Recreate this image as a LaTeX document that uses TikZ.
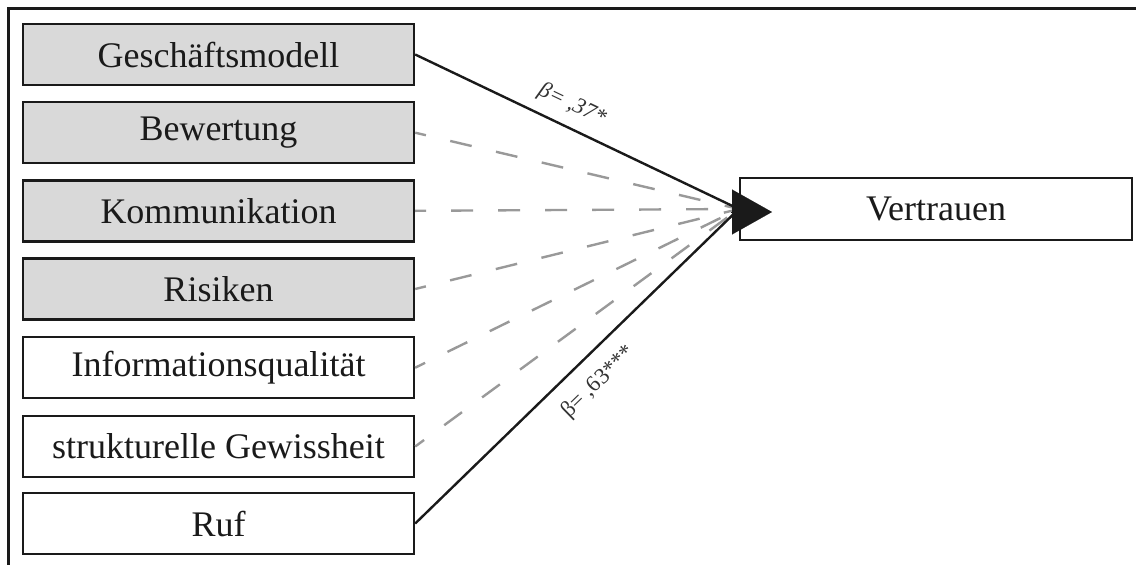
\documentclass[tikz,border=0pt]{standalone}
\usepackage{fontspec}
\setmainfont{Liberation Serif}
\usetikzlibrary{arrows.meta}
\definecolor{boxgray}{HTML}{D9D9D9}
\definecolor{ink}{HTML}{1A1A1A}
\definecolor{dashgray}{HTML}{999999}
\definecolor{lblgray}{HTML}{333333}
\tikzset{
  frameline/.style={line width=2.2pt, draw=ink},
  srcbox/.style={draw=ink, line width=1.8pt, minimum width=293.25pt, minimum height=45.75pt,
    inner sep=0pt, font=\fontsize{27}{30}\selectfont, text=ink},
  graybox/.style={srcbox, fill=boxgray},
  whitebox/.style={srcbox, fill=white},
  targetbox/.style={draw=ink, line width=1.8pt, fill=white, minimum width=294pt, minimum height=46.5pt,
    inner sep=0pt, font=\fontsize{27}{30}\selectfont, text=ink},
  sigline/.style={draw=ink, line width=1.8pt},
  nsline/.style={draw=dashgray, line width=1.8pt, dash pattern=on 16.5pt off 18.75pt, dash phase=8.25pt},
  lbl/.style={font=\fontsize{17}{19}\selectfont, text=lblgray, inner sep=0pt, sloped},
  bigarrow/.style={draw=ink, fill=ink, line width=0.1pt, -{Triangle[length=30pt,width=33.75pt]}}
}
\begin{document}
\begin{tikzpicture}[x=0.75pt,y=-0.75pt]
\useasboundingbox (0,0) rectangle (1136,565);
\fill[white] (0,0) rectangle (1136,565);
% frame
\coordinate (fTL) at (8.5,8.5);
\coordinate (fTR) at (1136,8.5);
\coordinate (fBL) at (8.5,565);
\draw[frameline] (fTR) -- (fTL) -- (fBL);
% source boxes
\node[graybox]  (b1) at (218.5,54.5)  {Geschäftsmodell};
\node[graybox]  (b2) at (218.5,132.7) {Bewertung};
\node[graybox]  (b3) at (218.5,210.8) {Kommunikation};
\node[graybox]  (b4) at (218.5,289.0) {Risiken};
\node[whitebox] (b5) at (218.5,367.7) {Informationsqualität};
\node[whitebox] (b6) at (218.5,446.5) {strukturelle Gewissheit};
\node[whitebox] (b7) at (218.5,523.5) {Ruf};
% target
\node[targetbox] (V) at (936,209) {Vertrauen};
% non-significant paths
\draw[nsline] (b2.east) -- (V.west);
\draw[nsline] (b3.east) -- (V.west);
\draw[nsline] (b4.east) -- (V.west);
\draw[nsline] (b5.east) -- (V.west);
\draw[nsline] (b6.east) -- (V.west);
% significant paths
\draw[sigline] (b1.east) -- node[lbl, pos=0.455, above=8pt] {\itshape β= ,37*} (V.west);
\draw[sigline] (b7.east) -- node[lbl, pos=0.51, below=11pt] {β= ,63***} (V.west);
% arrow head
\coordinate (atail) at (731,212);
\coordinate (ahead) at (772,212);
\draw[bigarrow] (atail) -- (ahead);
\end{tikzpicture}
\end{document}
